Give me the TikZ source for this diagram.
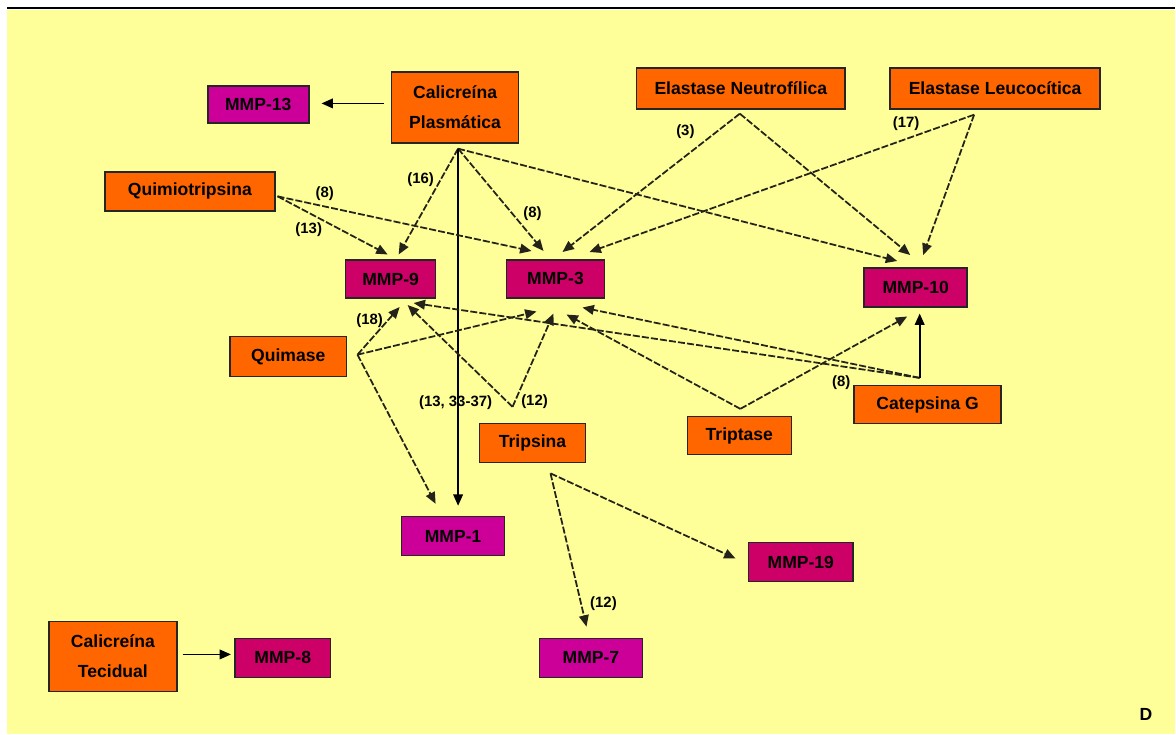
\documentclass[tikz,border=0pt]{standalone}
\usepackage{fontspec}
\setmainfont{Liberation Sans}
\usetikzlibrary{arrows.meta,calc}
\definecolor{bgyellow}{RGB}{255,255,153}
\definecolor{enzorange}{RGB}{255,102,0}
\definecolor{mmpmagenta}{RGB}{204,0,153}
\definecolor{mmpcrimson}{RGB}{204,0,102}
\definecolor{edgegray}{RGB}{35,35,25}
\begin{document}
\begin{tikzpicture}[x=0.02cm,y=-0.02cm,
  sz/.style 2 args={minimum width=#1*0.02cm,minimum height=#2*0.02cm},
  box/.style={draw=black!85,line width=0.9pt,inner sep=0pt,align=center,
    font=\bfseries\fontsize{10}{17}\selectfont},
  enz/.style={box,fill=enzorange},
  mmp/.style={box,fill=mmpcrimson},
  mmpm/.style={box,fill=mmpmagenta},
  link/.style={edgegray,line width=1pt,dash pattern=on 4pt off 1.2pt,
    -{Triangle[length=6.5pt,width=5.5pt]}},
  solidlink/.style={black,line width=1pt,-{Triangle[length=6.5pt,width=5.5pt]}},
  ref/.style={font=\bfseries\fontsize{8.5}{10}\selectfont,inner sep=0pt}]
\fill[white] (0,0) rectangle (1176,735);
\fill[bgyellow] (7,10) rectangle (1176,735);
\draw[line width=1.2pt] (7,8) -- (1176,8);
\node[mmpm,sz={101}{37}] (mmp13) at (258.5,104.5) {MMP-13};
\node[enz,sz={127}{71}] (calplas) at (455.5,107.5) {Calicreína\\Plasmática};
\node[enz,sz={209}{41}] (elneu) at (741.5,88.5) {Elastase Neutrofílica};
\node[enz,sz={210}{41}] (elleu) at (996,88.5) {Elastase Leucocítica};
\node[enz,sz={170}{39}] (quimio) at (190,191.5) {Quimiotripsina};
\node[mmp,sz={90}{38}] (mmp9) at (391,279.5) {MMP-9};
\node[mmp,sz={98}{38}] (mmp3) at (556,279) {MMP-3};
\node[mmp,sz={103}{39}] (mmp10) at (916.5,287.5) {MMP-10};
\node[enz,sz={117}{40}] (quimase) at (288.5,357) {Quimase};
\node[enz,sz={106}{39}] (tripsina) at (533,443.5) {Tripsina};
\node[enz,sz={104}{38}] (triptase) at (740,436) {Triptase};
\node[enz,sz={147}{38}] (catg) at (928.5,405) {Catepsina G};
\node[mmpm,sz={103}{39}] (mmp1) at (453.5,536.5) {MMP-1};
\node[mmp,sz={105}{39}] (mmp19) at (801.5,562.5) {MMP-19};
\node[mmpm,sz={103}{39}] (mmp7) at (591.5,658.5) {MMP-7};
\node[enz,sz={128}{70}] (caltec) at (113,657) {Calicreína\\Tecidual};
\node[mmp,sz={96}{39}] (mmp8) at (283,658.5) {MMP-8};
\node[font=\bfseries\fontsize{10}{12}\selectfont] (d) at (1147,715) {D};
\coordinate (calplasout) at ($(calplas.south)+(3,5)$);
\coordinate (quimioout) at ($(quimio.east)+(2,5)$);
\coordinate (elneuout) at ($(elneu.south)+(-1,4)$);
\coordinate (elleuout) at ($(elleu.south)+(-21,5)$);
\coordinate (quimaseout) at ($(quimase.east)+(10,-2)$);
\coordinate (tripsinain) at ($(tripsina.north)+(-20,-16)$);
\coordinate (tripsinaout) at ($(tripsina.south)+(18,10)$);
\coordinate (triptaseout) at ($(triptase.north)+(1,-7)$);
\coordinate (catgout) at ($(catg.north)+(-8,-7)$);
\draw[solidlink] ($(calplas.west)+(-7,-4)$) -- ($(mmp13.east)+(12,-1)$);
\draw[link] (calplasout) -- ($(mmp9.north)+(8,-5)$);
\draw[link] (calplasout) -- ($(mmp3.north)+(-12,-8)$);
\draw[link] (calplasout) -- ($(mmp10.north)+(-18.5,-6)$);
\draw[solidlink] (calplasout) -- ($(mmp1.north)+(5,-10)$);
\draw[link] (quimioout) -- ($(mmp9.north)+(-3,-5)$);
\draw[link] (quimioout) -- ($(mmp3.north)+(-24,-8)$);
\draw[link] (elneuout) -- ($(mmp3.north)+(7,-7)$);
\draw[link] (elneuout) -- ($(mmp10.north)+(-5.5,-12)$);
\draw[link] (elleuout) -- ($(mmp3.north)+(34,-7)$);
\draw[link] (elleuout) -- ($(mmp10.north)+(7.5,-12)$);
\draw[link] (quimaseout) -- ($(mmp9.south)+(9,8)$);
\draw[link] (quimaseout) -- ($(mmp3.south)+(-19,13)$);
\draw[link] (quimaseout) -- ($(mmp1.north)+(-17.5,-12)$);
\draw[link] (tripsinain) -- ($(mmp9.south)+(17,6)$);
\draw[link] (tripsinain) -- ($(mmp3.south)+(-2,15)$);
\draw[link] (tripsinaout) -- ($(mmp7.north)+(-4.5,-11)$);
\draw[link] (tripsinaout) -- ($(mmp19.west)+(-12,-3.5)$);
\draw[link] (triptaseout) -- ($(mmp3.south)+(11,16)$);
\draw[link] (triptaseout) -- ($(mmp10.south)+(-8.5,9)$);
\draw[link] (catgout) -- ($(mmp9.south)+(23,4)$);
\draw[link] (catgout) -- ($(mmp3.south)+(27,9)$);
\draw[solidlink] (catgout) -- ($(mmp10.south)+(4,6)$);
\draw[solidlink] ($(caltec.east)+(5,-2)$) -- ($(mmp8.west)+(-3,-3.5)$);
\node[ref] (l16) at (421,180) {(16)};
\node[ref] (l8a) at (325,194) {(8)};
\node[ref] (l13) at (309,230) {(13)};
\node[ref] (l8b) at (533,214) {(8)};
\node[ref] (l3) at (686,132) {(3)};
\node[ref] (l17) at (907,124) {(17)};
\node[ref] (l18) at (370,321) {(18)};
\node[ref] (l1333) at (456,403) {(13, 33-37)};
\node[ref] (l12a) at (535,402) {(12)};
\node[ref] (l8c) at (842,383) {(8)};
\node[ref] (l12b) at (604,604) {(12)};
\end{tikzpicture}
\end{document}
